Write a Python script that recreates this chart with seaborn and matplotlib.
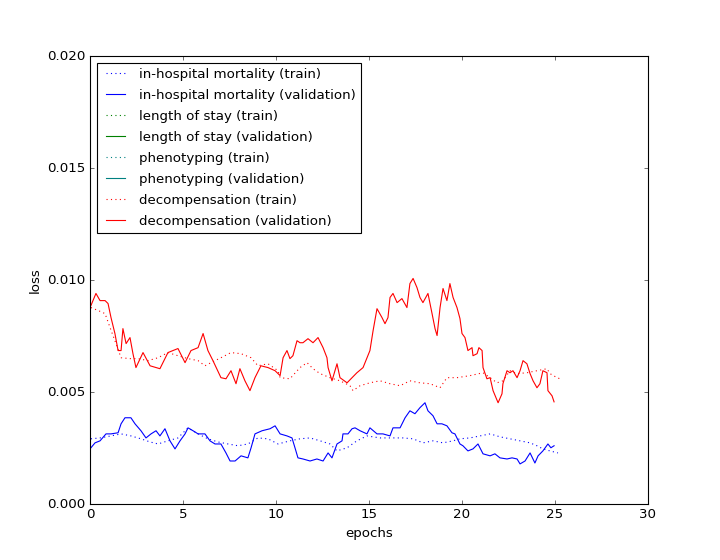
import matplotlib
matplotlib.use("Agg")
import matplotlib.pyplot as plt
import seaborn as sns
import pandas as pd

# values (epoch, loss x 1e-3)
mort_train_x = [0.05, 0.54, 1.13, 1.67, 2.20, 2.74, 3.23, 3.66, 4.19, 4.73, 5.27, 5.81, 6.34, 6.88,
                7.42, 7.96, 8.49, 9.03, 9.57, 10.11, 10.75, 11.29, 11.83, 12.37, 12.90, 13.28, 13.82,
                14.35, 14.89, 15.59, 16.13, 16.83, 17.37, 17.90, 18.44, 18.98, 19.52, 19.89, 20.43,
                20.97, 21.51, 22.04, 22.58, 23.12, 23.66, 24.03, 24.35, 24.73, 25.16]
mort_train_y = [2.91, 2.95, 3.04, 3.13, 3.04, 2.91, 2.77, 2.68, 2.82, 2.95, 3.40, 3.13, 2.91, 2.77,
                2.68, 2.60, 2.68, 2.95, 2.91, 2.68, 2.82, 2.91, 2.95, 2.82, 2.68, 2.37, 2.51,
                2.82, 3.04, 2.95, 2.95, 2.95, 2.91, 2.73, 2.82, 2.73, 2.82, 2.91, 2.95,
                3.04, 3.13, 3.00, 2.91, 2.82, 2.73, 2.60, 2.46, 2.37, 2.28]

mort_val_x = [0.05, 0.27, 0.54, 0.86, 1.13, 1.51, 1.67, 1.88, 2.20, 2.42, 2.74, 3.01, 3.28, 3.55,
              3.76, 4.03, 4.30, 4.57, 4.84, 5.11, 5.27, 5.54, 5.81, 6.18, 6.45, 6.72, 7.04, 7.31,
              7.53, 7.80, 8.12, 8.49, 8.66, 8.87, 9.25, 9.68, 9.95, 10.22, 10.59, 10.86, 11.02,
              11.18, 11.45, 11.83, 12.20, 12.53, 12.80, 13.01, 13.28, 13.55, 13.60, 13.87, 14.09,
              14.25, 14.52, 14.89, 15.05, 15.43, 15.75, 16.13, 16.29, 16.67, 16.94, 17.20, 17.47,
              17.74, 18.01, 18.17, 18.44, 18.66, 18.92, 19.19, 19.46, 19.62, 19.89, 20.05, 20.32,
              20.59, 20.86, 21.13, 21.51, 21.77, 22.04, 22.42, 22.69, 22.96, 23.12, 23.39, 23.66,
              23.92, 24.09, 24.35, 24.62, 24.78, 24.95]
mort_val_y = [2.51, 2.73, 2.82, 3.13, 3.13, 3.18, 3.58, 3.85, 3.85, 3.58, 3.27, 2.95, 3.13, 3.27,
              3.04, 3.36, 2.82, 2.46, 2.82, 3.13, 3.40, 3.27, 3.13, 3.13, 2.82, 2.68, 2.68, 2.28,
              1.92, 1.92, 2.15, 2.06, 2.51, 3.13, 3.27, 3.36, 3.49, 3.13, 3.04, 2.95, 2.51,
              2.06, 2.01, 1.92, 2.01, 1.92, 2.28, 2.06, 2.68, 2.82, 3.13, 3.13, 3.36,
              3.40, 3.27, 3.13, 3.40, 3.13, 3.13, 3.04, 3.40, 3.40, 3.85, 4.16, 4.03,
              4.30, 4.52, 4.16, 3.94, 3.58, 3.58, 3.49, 3.18, 3.13, 2.68, 2.60, 2.37,
              2.46, 2.68, 2.24, 2.15, 2.24, 2.06, 2.01, 2.06, 2.01, 1.79, 1.92, 2.28,
              1.83, 2.15, 2.37, 2.68, 2.51, 2.60]

decomp_train_x = [0.05, 0.43, 0.81, 1.08, 1.34, 1.67, 2.15, 2.58, 3.12, 3.66, 4.19, 4.73, 5.27,
                  5.81, 6.18, 6.72, 7.04, 7.58, 8.12, 8.66, 9.03, 9.57, 10.11, 10.22, 10.75,
                  11.29, 11.67, 11.99, 12.37, 12.90, 13.44, 13.98, 14.14, 14.52, 15.05, 15.59,
                  16.13, 16.67, 17.20, 17.74, 18.28, 18.82, 19.19, 19.73, 20.43, 21.13, 21.51,
                  21.88, 22.20, 22.58, 22.96, 23.49, 24.03, 24.57, 24.73, 25.11, 25.27]
decomp_train_y = [8.77, 8.64, 8.50, 7.87, 7.29, 6.53, 6.49, 6.49, 6.40, 6.53, 6.76, 6.62, 6.49,
                  6.40, 6.17, 6.40, 6.53, 6.76, 6.71, 6.53, 6.17, 6.26, 5.95, 5.64, 5.59,
                  6.09, 6.31, 6.04, 5.82, 5.64, 5.50, 5.28, 5.06, 5.28, 5.41, 5.50,
                  5.37, 5.28, 5.50, 5.41, 5.37, 5.19, 5.64, 5.64, 5.73, 5.86, 5.64,
                  5.41, 5.50, 5.95, 5.82, 5.86, 5.95, 6.04, 5.82, 5.64, 5.59]

decomp_val_x = [0.05, 0.32, 0.54, 0.81, 0.97, 1.13, 1.34, 1.51, 1.67, 1.77, 1.94, 2.15, 2.31,
                2.47, 2.85, 3.23, 3.76, 4.19, 4.73, 5.11, 5.43, 5.81, 6.08, 6.34, 6.61, 7.04,
                7.31, 7.58, 7.85, 8.06, 8.33, 8.60, 8.87, 9.19, 9.57, 9.95, 10.22, 10.38, 10.59,
                10.75, 10.91, 11.13, 11.29, 11.45, 11.72, 11.99, 12.26, 12.53, 12.74, 12.80,
                13.01, 13.28, 13.44, 13.82, 14.09, 14.35, 14.68, 15.05, 15.22, 15.43, 15.70,
                15.86, 16.02, 16.13, 16.29, 16.51, 16.77, 17.04, 17.20, 17.37, 17.58, 17.74,
                17.90, 18.17, 18.39, 18.55, 18.66, 18.82, 18.98, 19.19, 19.35, 19.52, 19.73,
                19.89, 20.00, 20.16, 20.32, 20.54, 20.59, 20.81, 20.91, 21.08, 21.13, 21.34,
                21.51, 21.67, 21.94, 22.15, 22.20, 22.42, 22.58, 22.74, 22.96, 23.12, 23.28,
                23.49, 23.66, 23.82, 24.03, 24.19, 24.35, 24.57, 24.62, 24.84, 24.95]
decomp_val_y = [8.86, 9.40, 9.08, 9.08, 8.95, 8.32, 7.61, 6.85, 6.85, 7.83, 7.16, 7.43, 6.71,
                6.09, 6.76, 6.17, 6.04, 6.76, 6.94, 6.31, 6.85, 6.98, 7.61, 6.85, 6.40, 5.64,
                5.59, 5.95, 5.37, 6.04, 5.50, 5.06, 5.64, 6.17, 6.09, 5.95, 5.73, 6.53, 6.85,
                6.49, 6.62, 7.29, 7.20, 7.20, 7.38, 7.20, 7.43, 6.98, 6.53, 6.09,
                5.50, 6.26, 5.64, 5.41, 5.64, 5.86, 6.09, 6.85, 7.74, 8.72, 8.32,
                8.05, 8.32, 9.22, 9.40, 8.99, 9.17, 8.77, 9.84, 10.07, 9.66, 9.22,
                8.99, 9.40, 8.50, 7.83, 7.52, 8.77, 9.62, 9.08, 9.84, 9.22, 8.77,
                8.28, 7.61, 7.43, 6.85, 6.98, 6.62, 6.71, 6.98, 6.85, 6.09, 5.59,
                5.64, 5.06, 4.52, 4.92, 5.37, 5.95, 5.86, 5.95, 5.64, 5.95, 6.40,
                6.26, 5.82, 5.50, 5.19, 5.37, 5.95, 5.86, 5.06, 4.83, 4.56]

labels = ["in-hospital mortality (train)", "in-hospital mortality (validation)",
          "length of stay (train)", "length of stay (validation)",
          "phenotyping (train)", "phenotyping (validation)",
          "decompensation (train)", "decompensation (validation)"]

plt.style.use("classic")
fig, ax = plt.subplots(figsize=(9, 7), dpi=80)
fig.patch.set_facecolor("white")

def draw(xs, ys, color, ls, label):
    df = pd.DataFrame({"epochs": xs, "loss": [v / 1000 for v in ys]})
    sns.lineplot(data=df, x="epochs", y="loss", color=color, linestyle=ls, lw=1,
                 estimator=None, sort=False, ax=ax, label=label)

draw(mort_train_x, mort_train_y, "b", ":", labels[0])
draw(mort_val_x, mort_val_y, "b", "-", labels[1])
# no curves visible for these tasks, only legend entries
ax.plot([], [], color="g", ls=":", label=labels[2])
ax.plot([], [], color="g", ls="-", label=labels[3])
ax.plot([], [], color="#008080", ls=":", label=labels[4])
ax.plot([], [], color="#008080", ls="-", label=labels[5])
draw(decomp_train_x, decomp_train_y, "r", ":", labels[6])
draw(decomp_val_x, decomp_val_y, "r", "-", labels[7])

handles, labs = ax.get_legend_handles_labels()
order = [labs.index(l) for l in labels]
ax.legend([handles[i] for i in order], labels, loc="upper left", fontsize=12,
          labelspacing=0.6)

ax.set_xlim(0, 30)
ax.set_ylim(0, 0.02)
ax.set_xlabel("epochs")
ax.set_ylabel("loss")
fig.savefig("out.png", dpi=80, facecolor="white")
